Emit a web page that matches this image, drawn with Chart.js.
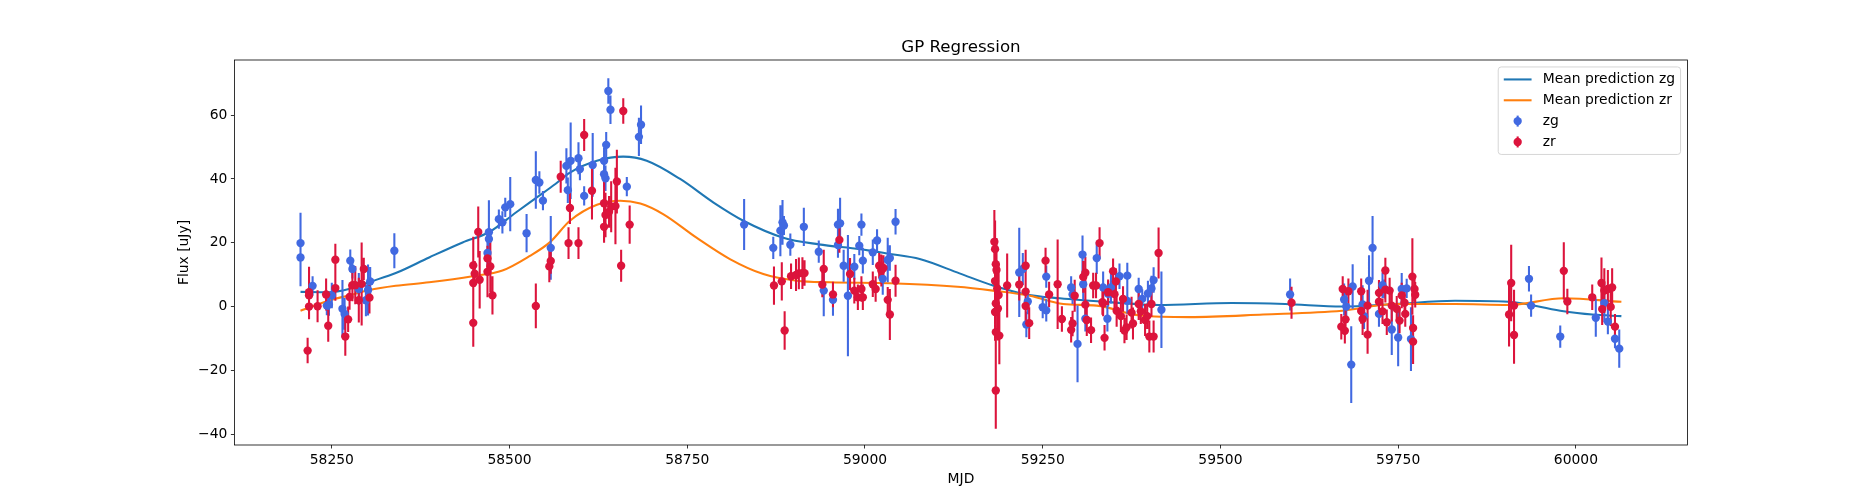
<!DOCTYPE html>
<html>
<head>
<meta charset="utf-8">
<title>GP Regression</title>
<script src="https://cdn.jsdelivr.net/npm/chart.js@4.4.1/dist/chart.umd.min.js"></script>
<style>
  html, body { margin: 0; padding: 0; background: #fff; }
  #wrap { width: 1875px; height: 500px; }
</style>
</head>
<body>
<div id="wrap"><canvas id="gp" width="1875" height="500"></canvas></div>
<script>
// Observed fluxes, zg band
const zgMjd = [58206,58206,58223,58243,58246,58250,58265,58268,58276,58279,58288,58298,58301,58304,58338,
  58469,58471,58471,58485,58490,58494,58501,58524,58537,58542,58547,58558,58580,58582,58586,58597,58599,58605,58617,58633,58633,58635,58636,58639,58642,58665,58682,58685,
  58830,58871,58881,58884,58886,58895,58914,58935,58942,58955,58962,58965,58962,58970,58976,58985,58992,58995,58997,59011,59017,59025,59032,59035,59043,
  59217,59222,59229,59227,59250,59255,59255,59290,59292,59299,59306,59307,59310,59326,59335,59342,59346,59341,59358,59369,59369,59385,59390,59398,59403,59406,59417,
  59598,59674,59677,59684,59686,59700,59702,59709,59714,59723,59728,59731,59741,59750,59755,59762,59768,
  59934,59937,59978,60028,60040,60045,60055,60061];
const zgFlux = [19.9,15.4,6.5,0.3,0.6,3.5,-0.7,-2.3,14.4,11.8,5.5,2.0,5.2,7.9,17.5,
  16.8,23.3,21.2,27.4,26.4,31.1,32.1,23.0,39.7,38.9,33.2,18.4,44.1,36.5,45.7,46.5,43.1,34.7,44.4,45.7,41.5,40.2,50.7,67.6,61.7,37.6,53.2,57.0,
  25.7,18.4,23.8,26.4,25.4,19.4,25.0,17.2,5.0,2.1,25.7,26.1,19.3,12.8,3.4,12.5,19.1,25.7,14.4,17.0,20.7,8.7,14.6,15.2,26.6,
  10.7,11.8,1.6,-5.6,-0.2,-1.2,9.4,6.0,3.8,-11.7,16.3,7.0,-3.8,15.2,6.0,4.0,6.0,-3.8,9.5,9.7,1.8,5.5,2.4,4.1,5.7,8.3,-1.0,
  3.8,2.2,0.0,-18.2,6.3,0.7,-3.0,8.1,18.4,-2.3,6.7,5.5,-7.2,-9.7,5.5,5.7,-10.2,
  8.7,0.3,-9.4,-3.5,1.1,-4.7,-10.1,-13.2];
const zgErr = [9.5,9,3,3,3.5,4,9,5,3.5,3,5,5,8,4.5,5.5,
  4,10,4,3,3.5,3,8.5,6,9,3.5,3,10,5.5,4,12,5,3.5,3,10,4,4,4,4,4,4.5,3,6,6,
  8,3.5,8,7,3,3.5,6,3.5,8,5,5,8,4,5,19,4,3,3.5,4,4,3.5,5,7,4,4,
  14,5,4,4,3.5,3.5,3.5,3.5,3,12,6,5,4,5,5,4,5,4,4,4,4,3.5,3,4,4,4,12,
  5,5,4,12,7,6,4,8,10,4,4,3,8,9,5,3,10,
  4,3.5,3.5,6,6,4,3,6];

// Observed fluxes, zr band
const zrMjd = [58216,58218,58218,58218,58230,58242,58245,58255,58255,58269,58273,58275,58279,58283,58288,58292,58295,58303,
  58449,58449,58449,58451,58456,58458,58469,58469,58473,58476,58537,58556,58558,58572,58583,58585,58597,58605,58616,58633,58633,58635,58640,58643,58649,58651,58657,58660,58669,
  58872,58883,58887,58896,58903,58907,58912,58915,58940,58942,58955,58964,58979,58985,58990,58995,58997,59011,59015,59020,59023,59026,59032,59035,59043,
  59182,59183,59184,59185,59183,59186,59188,59184,59187,59183,59184,59189,59184,59200,59217,59226,59226,59226,59231,59254,59259,59271,59277,59290,59292,59295,59307,59310,59310,59312,
  59318,59321,59325,59330,59334,59335,59337,59342,59349,59351,59353,59354,59360,59363,59365,59368,59375,59377,59385,59388,59394,59397,59400,59403,59406,59413,
  59600,59670,59672,59675,59676,59680,59698,59698,59700,59707,59707,59723,59723,59728,59732,59732,59734,59738,59741,59748,59752,59755,59759,59760,59770,59771,59771,59773,59774,
  59906,59909,59913,59913,59983,59988,60023,60036,60037,60040,60045,60049,60051,60055];
const zrFlux = [-13.8,4.5,3.5,0.0,0.1,3.8,-6.0,14.7,5.8,-9.4,-4.0,3.0,6.7,6.7,2.0,7.1,11.8,2.8,
  7.4,-5.1,12.9,10.3,23.4,8.4,15.1,10.9,12.6,3.5,0.2,12.6,14.3,40.7,19.9,30.9,19.9,53.8,36.3,32.4,25.0,28.7,29.7,31.3,31.5,39.2,12.8,61.3,25.7,
  6.6,7.9,-7.5,9.5,9.9,10.4,10.5,10.5,6.9,11.8,3.8,20.9,10.2,5.0,2.9,5.5,2.9,7.0,5.5,12.8,11.3,12.1,2.1,-2.5,8.1,
  20.3,18.0,13.3,11.5,8.0,5.7,3.6,1.0,-0.6,-1.7,-8.0,-9.1,-26.3,6.6,6.9,12.8,4.7,0.2,-5.2,14.4,3.8,7.0,-3.9,-7.3,-5.3,3.4,9.3,10.6,0.6,-4.2,
  -7.4,6.6,6.6,19.9,1.4,1.0,-9.8,4.5,11.1,3.9,7.9,-1.3,-3.0,2.4,-7.5,-6.5,-1.9,-5.3,0.8,-1.5,-4.2,-3.0,-9.4,0.8,-9.4,16.8,
  1.2,-6.3,5.5,-7.6,-4.0,4.8,4.8,-1.4,-3.9,0.3,-8.8,1.5,4.3,-1.5,11.3,5.3,-4.9,5.0,0.3,-0.7,-4.4,3.5,1.2,-2.3,9.4,-6.7,-11.0,5.5,3.7,
  -2.5,7.4,0.3,-8.9,11.2,1.6,2.9,7.4,-0.8,5.0,5.5,-0.1,6.0,-6.3];
const zrErr = [4,8,4,4,5,5,5,5,4,6,4,4,5,6,7,13,3.5,5,
  9.5,7.5,9,4,8,9,4,8,8,6,7,5,4,5,5,5,5,5,9,7,5,7,5,8,12,10,5,4,6,
  6,6,6,4,5,5,5,4,4,6,4,4,5,4,4,4,4,4,4,4,5,4,4,8,5,
  10,9,8,10,9,8,10,9,10,9,10,9,12,10,5,5,8,6,5,4,4,14,4,4,4,5,5,5,6,5,
  4,4,4,5,4,4,4,4,4,5,4,5,5,4,4,4,5,5,5,4,5,4,5,4,5,8,
  5,4,4,4,4,4,4,4,5,5,6,4,4,4,4,4,4,4,5,4,4,4,4,4,12,4,7,4,4,
  10,12,5,9,9,4,4,8,5,7,6,6,6,4];

// GP mean predictions
const predZgMjd = [58206,58246,58274,58303,58340,58387,58434,58471,58509,58537,58565,58585,58623,58660,58693,58740,58787,58829,58885,58935,
  58993,59035,59077,59133,59180,59227,59274,59344,59413,59516,59591,59671,59745,59830,59905,59978,60023,60064];
const predZg = [4.6,4.5,5.5,7.7,10.5,15.4,20.1,23.3,29.5,34.0,38.5,42.0,45.7,47.0,45.7,40.0,32.6,26.9,21.6,19.5,
  18.0,16.5,14.9,10.4,6.6,3.8,2.6,1.4,0.5,1.1,0.8,0.0,0.8,1.8,1.5,-1.3,-2.5,-3.0];
const predZrMjd = [58206,58246,58274,58303,58340,58387,58448,58490,58528,58557,58585,58623,58656,58684,58716,58763,58810,58857,58904,58951,
  59035,59130,59180,59232,59279,59326,59387,59457,59560,59671,59745,59830,59905,59983,60064];
const predZr = [-1.3,1.9,3.5,5.2,6.5,7.6,9.5,11.3,15.8,20.2,26.9,31.9,33.2,32.3,29.0,21.6,14.9,10.2,8.1,7.6,
  7.3,6.2,5.0,3.4,0.8,0.3,-2.8,-3.3,-2.5,-1.3,0.8,0.8,0.5,2.6,1.5];

const xTicks = [58250, 58500, 58750, 59000, 59250, 59500, 59750, 60000];
const yTicks = [-40, -20, 0, 20, 40, 60];
const titleText = 'GP Regression';
const legendLabels = ['Mean prediction zg', 'Mean prediction zr', 'zg', 'zr'];

const FS = 13.89; // 10pt at 100 dpi
const LW = 2.08;  // 1.5pt lines
const C_ZG = '#1f77b4', C_ZR = '#ff7f0e', C_G = '#4169e1', C_R = '#dc143c';

Chart.defaults.font.family = "'DejaVu Sans', sans-serif";
Chart.defaults.font.size = FS;
Chart.defaults.color = '#000';

function points(xs, ys) {
  return xs.map((x, i) => ({ x: x, y: ys[i] }));
}
// vertical error segments, separated by gaps
function errSegments(xs, ys, es) {
  const out = [];
  xs.forEach((x, i) => {
    out.push({ x: x, y: ys[i] - es[i] }, { x: x, y: ys[i] + es[i] }, { x: x, y: null });
  });
  return out;
}
function minus(v) {
  return v < 0 ? '\u2212' + Math.abs(v) : String(v);
}

// frame, title and legend drawn like matplotlib
const mplDecor = {
  id: 'mplDecor',
  afterDraw(chart) {
    const ctx = chart.ctx, a = chart.chartArea;
    ctx.save();
    ctx.strokeStyle = '#000';
    ctx.lineWidth = 0.8;
    ctx.strokeRect(a.left, a.top, a.right - a.left, a.bottom - a.top);

    ctx.fillStyle = '#000';
    ctx.font = "16.67px 'DejaVu Sans'";
    ctx.textAlign = 'center';
    ctx.textBaseline = 'alphabetic';
    ctx.fillText(titleText, (a.left + a.right) / 2, a.top - 8.33);

    // legend, upper right
    ctx.font = FS + "px 'DejaVu Sans'";
    let tw = 0;
    legendLabels.forEach(t => { tw = Math.max(tw, ctx.measureText(t).width); });
    const w = 0.4 * FS + 2 * FS + 0.8 * FS + tw + 0.4 * FS;
    const h = 0.8 * FS + 4 * FS + 3 * 0.5 * FS;
    const right = a.right - 0.5 * FS, top = a.top + 0.5 * FS, left = right - w;
    ctx.beginPath();
    ctx.roundRect(left, top, w, h, 3);
    ctx.fillStyle = 'rgba(255,255,255,0.8)';
    ctx.fill();
    ctx.strokeStyle = 'rgba(204,204,204,0.8)';
    ctx.lineWidth = 1;
    ctx.stroke();

    const hx = left + 0.4 * FS;
    const colors = [C_ZG, C_ZR, C_G, C_R];
    legendLabels.forEach((t, i) => {
      const cy = top + 0.4 * FS + FS / 2 + i * 1.5 * FS;
      ctx.strokeStyle = colors[i];
      ctx.lineWidth = LW;
      ctx.beginPath();
      if (i < 2) {
        ctx.moveTo(hx, cy);
        ctx.lineTo(hx + 2 * FS, cy);
        ctx.stroke();
      } else {
        ctx.moveTo(hx + FS, cy - 5.5);
        ctx.lineTo(hx + FS, cy + 5.5);
        ctx.stroke();
        ctx.fillStyle = colors[i];
        ctx.beginPath();
        ctx.arc(hx + FS, cy, 4.17, 0, Math.PI * 2);
        ctx.fill();
      }
      ctx.fillStyle = '#000';
      ctx.textAlign = 'left';
      ctx.textBaseline = 'middle';
      ctx.fillText(t, hx + 2.8 * FS, cy);
    });
    ctx.restore();
  }
};

const tickGrid = { display: true, drawOnChartArea: false, drawTicks: true, tickLength: 3.5, color: '#000', lineWidth: 0.8 };

new Chart(document.getElementById('gp'), {
  type: 'line',
  data: {
    datasets: [
      { label: 'Mean prediction zg', data: points(predZgMjd, predZg), borderColor: C_ZG, borderWidth: LW,
        pointRadius: 0, cubicInterpolationMode: 'monotone', fill: false, order: 6 },
      { label: 'Mean prediction zr', data: points(predZrMjd, predZr), borderColor: C_ZR, borderWidth: LW,
        pointRadius: 0, cubicInterpolationMode: 'monotone', fill: false, order: 5 },
      { label: 'zg err', data: errSegments(zgMjd, zgFlux, zgErr), borderColor: C_G, borderWidth: LW,
        pointRadius: 0, spanGaps: false, borderCapStyle: 'butt', order: 4 },
      { label: 'zr err', data: errSegments(zrMjd, zrFlux, zrErr), borderColor: C_R, borderWidth: LW,
        pointRadius: 0, spanGaps: false, borderCapStyle: 'butt', order: 3 },
      { label: 'zg', data: points(zgMjd, zgFlux), showLine: false, pointRadius: 4.17,
        pointBackgroundColor: C_G, pointBorderWidth: 0, order: 2 },
      { label: 'zr', data: points(zrMjd, zrFlux), showLine: false, pointRadius: 4.17,
        pointBackgroundColor: C_R, pointBorderWidth: 0, order: 1 }
    ]
  },
  options: {
    responsive: false,
    devicePixelRatio: 1,
    animation: false,
    events: [],
    layout: { padding: { left: 0, top: 60, right: 187.5, bottom: 0 } },
    plugins: { legend: { display: false }, tooltip: { enabled: false }, title: { display: false } },
    scales: {
      x: {
        type: 'linear', min: 58113, max: 60157,
        afterBuildTicks: s => { s.ticks = xTicks.map(v => ({ value: v })); },
        afterFit: s => { s.height = 55; },
        ticks: { callback: v => String(v), padding: 3.5, maxRotation: 0, autoSkip: false, color: '#000' },
        grid: tickGrid,
        border: { display: false },
        title: { display: true, text: 'MJD', color: '#000', padding: { top: 0, bottom: 12 } }
      },
      y: {
        type: 'linear', min: -43.4, max: 77.3,
        afterBuildTicks: s => { s.ticks = yTicks.map(v => ({ value: v })); },
        afterFit: s => { s.width = 234.4; },
        ticks: { callback: v => minus(v), padding: 3.5, color: '#000' },
        grid: tickGrid,
        border: { display: false },
        title: { display: true, text: 'Flux [uJy]', color: '#000', padding: { top: 175.7, bottom: 0 } }
      }
    }
  },
  plugins: [mplDecor]
});
</script>
</body>
</html>
